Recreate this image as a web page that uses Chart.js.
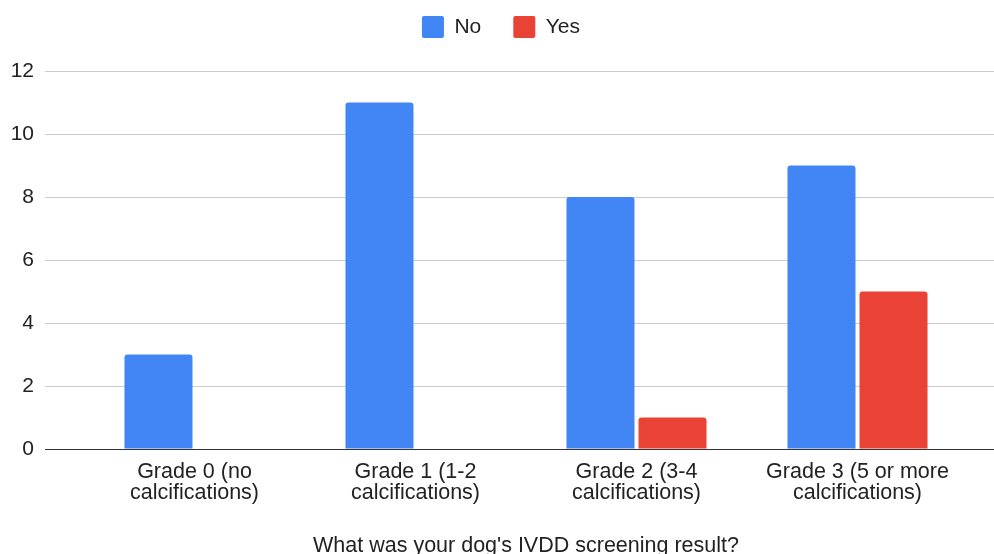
<!DOCTYPE html>
<html>
<head>
<meta charset="utf-8">
<script src="https://cdn.jsdelivr.net/npm/chart.js@4.4.1/dist/chart.umd.min.js"></script>
<style>
  html, body { margin: 0; padding: 0; background: #fff; overflow: hidden; }
  #wrap { width: 994px; height: 560px; }
</style>
</head>
<body>
<div id="wrap"><canvas id="chart" width="994" height="560"></canvas></div>
<script>
// Screening grades (two-line axis labels)
const categories = [
  ['Grade 0 (no', 'calcifications)'],
  ['Grade 1 (1-2', 'calcifications)'],
  ['Grade 2 (3-4', 'calcifications)'],
  ['Grade 3 (5 or more', 'calcifications)']
];
const seriesNames = ['No', 'Yes'];
const noValues = [3, 11, 8, 9];
const yesValues = [0, 0, 1, 5];
const yTicks = [0, 2, 4, 6, 8, 10, 12];
const axisTitle = "What was your dog's IVDD screening result?";

const FONT = "'Liberation Sans', Arial, sans-serif";
const TEXT = '#222222';
const GRID = '#cccccc';
const BASE = '#333333';

const gridColor = ctx => (ctx.tick && ctx.tick.value === 0 ? BASE : GRID);

new Chart(document.getElementById('chart'), {
  type: 'bar',
  data: {
    labels: categories,
    datasets: [
      { label: seriesNames[0], data: noValues, backgroundColor: '#4285F4', borderRadius: 3,
        barPercentage: 0.944, categoryPercentage: 0.652 },
      { label: seriesNames[1], data: yesValues, backgroundColor: '#EA4335', borderRadius: 3,
        barPercentage: 0.944, categoryPercentage: 0.652 }
    ]
  },
  options: {
    responsive: false,
    animation: false,
    devicePixelRatio: 1,
    layout: { padding: { top: -16, left: 8, right: 0, bottom: 0 } },
    plugins: {
      tooltip: { enabled: false },
      legend: {
        position: 'top',
        align: 'center',
        labels: {
          boxWidth: 22, boxHeight: 22, padding: 32,
          useBorderRadius: true, borderRadius: 2,
          color: TEXT, font: { family: FONT, size: 21 }
        }
      },
      // empty spacer between the legend and the plot area
      title: {
        display: true, text: '', weight: 500, padding: 0,
        font: { family: FONT, size: 23, lineHeight: 1.0 }
      }
    },
    scales: {
      x: {
        grid: { display: false, drawTicks: false },
        border: { display: false },
        ticks: { color: TEXT, padding: 12, maxRotation: 0, autoSkip: false,
                 font: { family: FONT, size: 21.5, lineHeight: 1.0 } },
        title: { display: true, text: axisTitle, color: TEXT, padding: { top: 0, bottom: 3 },
                 font: { family: FONT, size: 21.5, lineHeight: 1.0 } },
        afterFit: s => { s.height = 111; }
      },
      y: {
        min: 0, max: 12,
        afterBuildTicks: s => { s.ticks = yTicks.map(v => ({ value: v })); },
        grid: { color: gridColor, tickColor: gridColor, tickLength: 39, lineWidth: 1 },
        border: { display: false },
        ticks: { color: TEXT, padding: 11, font: { family: FONT, size: 21 } },
        afterFit: s => { s.width = 76; }
      },
      y2: {
        position: 'right',
        min: 0, max: 12,
        afterBuildTicks: s => { s.ticks = yTicks.map(v => ({ value: v })); },
        grid: { drawOnChartArea: false, color: gridColor, tickColor: gridColor, tickLength: 26 },
        border: { display: false },
        ticks: { display: false },
        afterFit: s => { s.width = 26; }
      }
    }
  }
});
</script>
</body>
</html>
